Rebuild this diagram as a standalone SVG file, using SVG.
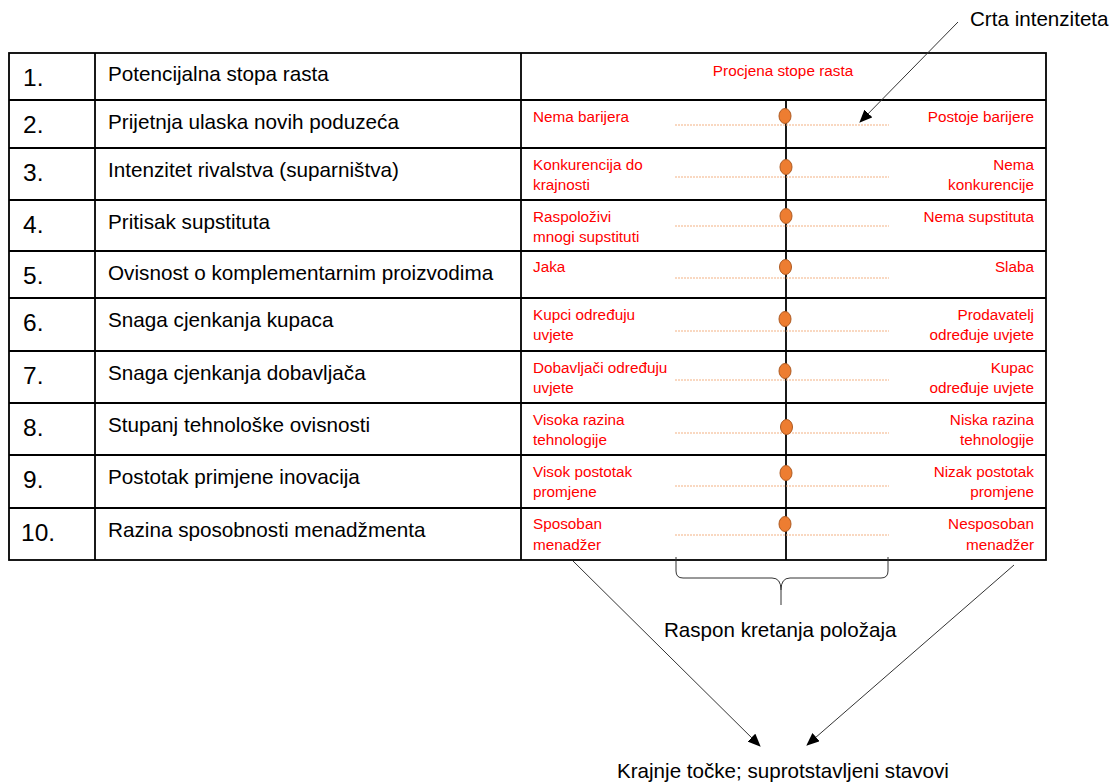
<svg xmlns="http://www.w3.org/2000/svg" width="1119" height="783" viewBox="0 0 1119 783">
<defs>
<marker id="ah" markerUnits="userSpaceOnUse" markerWidth="13" markerHeight="11" refX="12" refY="5.5" orient="auto"><path d="M0,0 L13,5.5 L0,11 z" fill="#000"/></marker>
<style>
.grid{stroke:#000;stroke-width:1.8;fill:none}
.num{font-family:"Liberation Sans",Arial,sans-serif;font-size:24.5px;fill:#000}
.lab{font-family:"Liberation Sans",Arial,sans-serif;font-size:20.7px;fill:#000}
.red{font-family:"Liberation Sans",Arial,sans-serif;font-size:15.3px;fill:#ff0000}
.rr{text-anchor:end}
.big{font-family:"Liberation Sans",Arial,sans-serif;font-size:20.6px;fill:#000}
.dot{fill:#ED7D31;stroke:#AE5A21;stroke-width:1}
.dl{stroke:#F4B183;stroke-width:1.2;stroke-dasharray:2 1;fill:none}
.con{stroke:#333;stroke-width:1;fill:none}
</style>
</defs>
<rect width="1119" height="783" fill="#fff"/>
<g id="table">
<rect class="grid" x="9" y="53" width="1037" height="507"/>
<line class="grid" x1="95" y1="53" x2="95" y2="560"/>
<line class="grid" x1="521" y1="53" x2="521" y2="560"/>
<line class="grid" x1="9" y1="100" x2="1046" y2="100"/>
<line class="grid" x1="9" y1="148" x2="1046" y2="148"/>
<line class="grid" x1="9" y1="200" x2="1046" y2="200"/>
<line class="grid" x1="9" y1="251" x2="1046" y2="251"/>
<line class="grid" x1="9" y1="298" x2="1046" y2="298"/>
<line class="grid" x1="9" y1="351" x2="1046" y2="351"/>
<line class="grid" x1="9" y1="403" x2="1046" y2="403"/>
<line class="grid" x1="9" y1="455" x2="1046" y2="455"/>
<line class="grid" x1="9" y1="508" x2="1046" y2="508"/>
<line class="grid" x1="786" y1="100" x2="786" y2="560"/>
</g>
<g id="row1">
<text class="num" x="23" y="85.5">1.</text>
<text class="lab" x="108" y="81">Potencijalna stopa rasta</text>
<text class="red" x="783" y="75.5" text-anchor="middle">Procjena stope rasta</text>
</g>
<g id="row2">
<text class="num" x="23" y="132.5">2.</text>
<text class="lab" x="108" y="128.5">Prijetnja ulaska novih poduzeća</text>
<text class="red" x="533" y="121.5">Nema barijera</text>
<text class="red rr" x="1034" y="121.5">Postoje barijere</text>
<line class="dl" x1="675" y1="125" x2="889" y2="125"/>
<ellipse class="dot" cx="785" cy="116" rx="6" ry="7.5"/>
</g>
<g id="row3">
<text class="num" x="23" y="180.5">3.</text>
<text class="lab" x="108" y="176.5">Intenzitet rivalstva (suparništva)</text>
<text class="red" x="533" y="169.5">Konkurencija do</text>
<text class="red" x="533" y="189.5">krajnosti</text>
<text class="red rr" x="1034" y="169.5">Nema</text>
<text class="red rr" x="1034" y="189.5">konkurencije</text>
<line class="dl" x1="675" y1="177" x2="889" y2="177"/>
<ellipse class="dot" cx="786" cy="167" rx="6" ry="7.5"/>
</g>
<g id="row4">
<text class="num" x="23" y="232.5">4.</text>
<text class="lab" x="108" y="228.5">Pritisak supstituta</text>
<text class="red" x="533" y="221.5">Raspoloživi</text>
<text class="red" x="533" y="241.5">mnogi supstituti</text>
<text class="red rr" x="1034" y="221.5">Nema supstituta</text>
<line class="dl" x1="675" y1="226" x2="889" y2="226"/>
<ellipse class="dot" cx="786" cy="216" rx="6" ry="7.5"/>
</g>
<g id="row5">
<text class="num" x="23" y="283.5">5.</text>
<text class="lab" x="108" y="279.5">Ovisnost o komplementarnim proizvodima</text>
<text class="red" x="533" y="272">Jaka</text>
<text class="red rr" x="1034" y="272">Slaba</text>
<line class="dl" x1="675" y1="278" x2="889" y2="278"/>
<ellipse class="dot" cx="785.5" cy="267" rx="6" ry="7.5"/>
</g>
<g id="row6">
<text class="num" x="23" y="330.5">6.</text>
<text class="lab" x="108" y="326.5">Snaga cjenkanja kupaca</text>
<text class="red" x="533" y="319.5">Kupci određuju</text>
<text class="red" x="533" y="339.5">uvjete</text>
<text class="red rr" x="1034" y="319.5">Prodavatelj</text>
<text class="red rr" x="1034" y="339.5">određuje uvjete</text>
<line class="dl" x1="675" y1="331" x2="889" y2="331"/>
<ellipse class="dot" cx="785" cy="319" rx="6" ry="7.5"/>
</g>
<g id="row7">
<text class="num" x="23" y="383.5">7.</text>
<text class="lab" x="108" y="379.5">Snaga cjenkanja dobavljača</text>
<text class="red" x="533" y="372.5">Dobavljači određuju</text>
<text class="red" x="533" y="392.5">uvjete</text>
<text class="red rr" x="1034" y="372.5">Kupac</text>
<text class="red rr" x="1034" y="392.5">određuje uvjete</text>
<line class="dl" x1="675" y1="380" x2="889" y2="380"/>
<ellipse class="dot" cx="785" cy="371" rx="6" ry="7.5"/>
</g>
<g id="row8">
<text class="num" x="23" y="435.5">8.</text>
<text class="lab" x="108" y="431.5">Stupanj tehnološke ovisnosti</text>
<text class="red" x="533" y="424.5">Visoka razina</text>
<text class="red" x="533" y="444.5">tehnologije</text>
<text class="red rr" x="1034" y="424.5">Niska razina</text>
<text class="red rr" x="1034" y="444.5">tehnologije</text>
<line class="dl" x1="675" y1="433" x2="889" y2="433"/>
<ellipse class="dot" cx="786.5" cy="427" rx="6" ry="7.5"/>
</g>
<g id="row9">
<text class="num" x="23" y="487.5">9.</text>
<text class="lab" x="108" y="483.5">Postotak primjene inovacija</text>
<text class="red" x="533" y="476.5">Visok postotak</text>
<text class="red" x="533" y="496.5">promjene</text>
<text class="red rr" x="1034" y="476.5">Nizak postotak</text>
<text class="red rr" x="1034" y="496.5">promjene</text>
<line class="dl" x1="675" y1="486" x2="889" y2="486"/>
<ellipse class="dot" cx="786" cy="473" rx="6" ry="7.5"/>
</g>
<g id="row10">
<text class="num" x="21" y="540.5">10.</text>
<text class="lab" x="108" y="536.5">Razina sposobnosti  menadžmenta</text>
<text class="red" x="533" y="528.5">Sposoban</text>
<text class="red" x="533" y="549.5">menadžer</text>
<text class="red rr" x="1034" y="528.5">Nesposoban</text>
<text class="red rr" x="1034" y="549.5">menadžer</text>
<line class="dl" x1="675" y1="535" x2="889" y2="535"/>
<ellipse class="dot" cx="785" cy="524" rx="6" ry="7.5"/>
</g>
<g id="crta-label">
<text class="big" x="970" y="26">Crta intenziteta</text>
</g>
<g id="raspon">
<path class="con" d="M676,557 V571 Q676,578 683,578 H772 Q781,578 781,590 V605 M781,590 Q781,578 790,578 H881 Q888,578 888,571 V557"/>
<text class="big" x="664" y="637">Raspon kretanja položaja</text>
</g>
<g id="krajnje">
<text class="big" x="617" y="778">Krajnje točke; suprotstavljeni stavovi</text>
</g>
<g id="connectors">
<line class="con" x1="958" y1="22" x2="860" y2="122" marker-end="url(#ah)"/>
<line class="con" x1="573" y1="561" x2="760" y2="746" marker-end="url(#ah)"/>
<line class="con" x1="1014" y1="565" x2="807" y2="745" marker-end="url(#ah)"/>
</g>
</svg>
